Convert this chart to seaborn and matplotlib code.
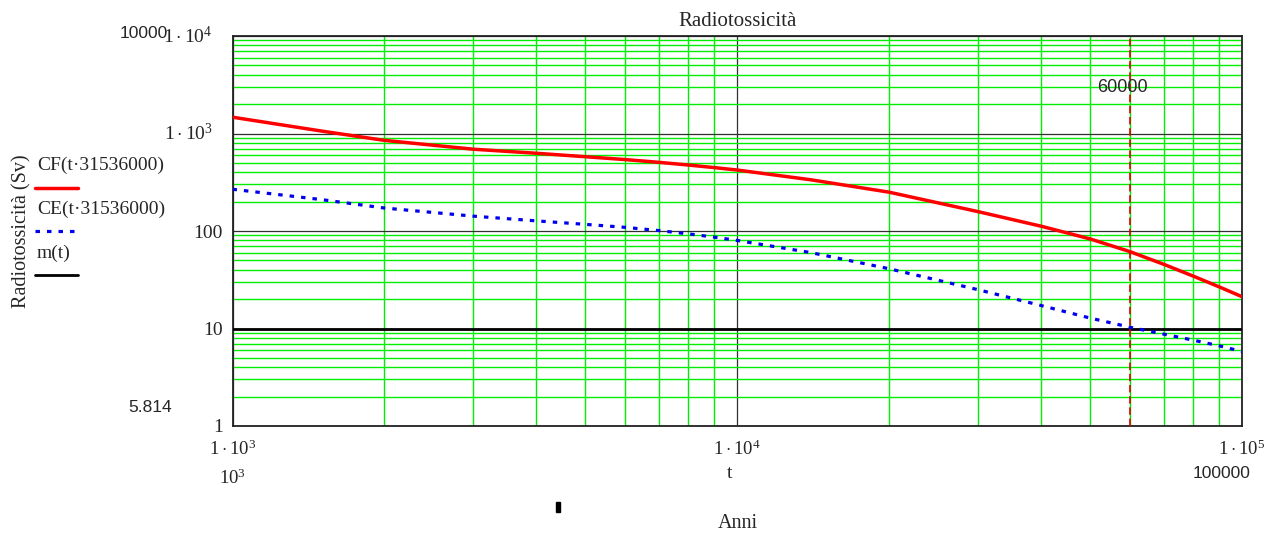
import numpy as np
import pandas as pd
import seaborn as sns
import matplotlib
matplotlib.use("Agg")
import matplotlib.pyplot as plt
from matplotlib.lines import Line2D
from matplotlib.ticker import LogLocator, NullFormatter
from matplotlib.transforms import ScaledTranslation

# ---- data ----
t_years = [1000, 1500, 2000, 3000, 4000, 5000, 6000, 7000, 8000, 9000, 10000,
           14000, 20000, 30000, 40000, 50000, 60000, 70000, 80000, 90000, 100000]
cf_values = [1470, 1060, 850, 690, 627, 578, 540, 506, 475, 447, 422,
             335, 250, 158, 112, 83, 61.4, 45.5, 34.5, 26.8, 21.2]
ce_values = [268, 210, 172, 142, 127, 117, 109, 101, 93.5, 86.5, 80,
             60, 41, 25, 17.2, 12.8, 10.3, 8.75, 7.6, 6.65, 5.814]
m_value = 10
marker_t = 60000
marker_ce = 5.814
y_ticks = [1, 10, 100, 1000, 10000]
y_ticklabels = ["1", "10", "100", r"$1\cdot10^{3}$", r"$1\cdot10^{4}$"]
x_ticks = [1000, 10000, 100000]
x_ticklabels = [r"$1\cdot10^{3}$", r"$1\cdot10^{4}$", r"$1\cdot10^{5}$"]
legend_labels = ["CF(t·31536000)", "CE(t·31536000)", "m(t)"]

sns.set_style("white")
plt.rcParams["font.family"] = ["Liberation Serif", "DejaVu Serif"]
plt.rcParams["mathtext.fontset"] = "custom"
plt.rcParams["mathtext.rm"] = "Liberation Serif"
plt.rcParams["mathtext.it"] = "Liberation Serif"

W, H = 1270, 536
fig = plt.figure(figsize=(W / 100, H / 100), dpi=100)
L, R, T, B = 232.5, 1242, 36, 426
ax = fig.add_axes([L / W, 1 - B / H, (R - L) / W, (B - T) / H])

df = pd.DataFrame({"t": t_years, "CF": cf_values, "CE": ce_values})
df["m"] = m_value

ax.set_xscale("log")
ax.set_yscale("log")
ax.set_xlim(1000, 100000)
ax.set_ylim(1, 10000)

# grid
ax.xaxis.set_minor_locator(LogLocator(base=10, subs=np.arange(2, 10)))
ax.yaxis.set_minor_locator(LogLocator(base=10, subs=np.arange(2, 10)))
ax.xaxis.set_minor_formatter(NullFormatter())
ax.yaxis.set_minor_formatter(NullFormatter())
ax.grid(which="minor", color="#00ee00", lw=1.0)
ax.grid(which="major", color="#303030", lw=0.9)
ax.set_axisbelow(True)

sns.lineplot(data=df, x="t", y="m", ax=ax, color="black", lw=2.0, zorder=3)
sns.lineplot(data=df, x="t", y="CE", ax=ax, color="#0000ee", lw=2.3,
             linestyle=(0, (1.4, 2.2)), zorder=4)
sns.lineplot(data=df, x="t", y="CF", ax=ax, color="#ff0000", lw=2.5, zorder=5)
ax.axvline(marker_t, color="#dd0000", lw=1.2, linestyle=(0, (4.5, 2.2)), zorder=6)

for s in ax.spines.values():
    s.set_color("#222222")
    s.set_linewidth(1.3)

ax.set_yticks(y_ticks)
ax.set_yticklabels(y_ticklabels)
ax.set_xticks(x_ticks)
ax.set_xticklabels(x_ticklabels)
ax.tick_params(which="both", length=0)
ax.tick_params(axis="y", labelsize=14, pad=7)
ax.tick_params(axis="x", labelsize=13.5, pad=10)
for lab in ax.get_yticklabels()[3:]:
    lab.set_transform(lab.get_transform() + ScaledTranslation(-0.10, 0.02, fig.dpi_scale_trans))
ax.set_xlabel("")
ax.set_ylabel("Radiotossicità (Sv)", fontsize=14.5)
ax.yaxis.set_label_coords((31 - L) / (R - L), 0.5)
ax.set_title("Radiotossicità", fontsize=15, pad=7)


def fx(x):
    return x / W


def fy(y):
    return 1 - y / H


sans = ["Liberation Sans", "DejaVu Sans"]
fig.text(fx(144), fy(33), "10000", fontsize=12.5, family=sans, ha="center", va="center")
fig.text(fx(232), fy(478), r"$10^{3}$", fontsize=13.5, ha="center", va="center")
fig.text(fx(730), fy(474), "t", fontsize=14, ha="center", va="center")
fig.text(fx(1222), fy(474), "100000", fontsize=12.5, family=sans, ha="center", va="center")
fig.text(fx(738), fy(524), "Anni", fontsize=14.5, ha="center", va="center")
ax.text(marker_t * 0.965, 10 ** (4 - (88 - T) / ((B - T) / 4)), "60000", fontsize=13,
        family=sans, ha="center", va="center", zorder=7)
fig.text(fx(150), fy(407), f"{marker_ce:.3f}", fontsize=12.5, family=sans, ha="center", va="center")
fig.add_artist(plt.Rectangle((fx(555.5), fy(512)), 4 / W, 10 / H, color="black"))

# legend (Mathcad style: label above line sample)
leg_styles = [dict(color="#ff0000", lw=2.5, ls="-"),
              dict(color="#0000ee", lw=2.3, ls=(0, (1.4, 2.2))),
              dict(color="black", lw=2.0, ls="-")]
text_y = [165, 209, 253]
line_y = [188, 231, 275]
for lab, st, ty, ly in zip(legend_labels, leg_styles, text_y, line_y):
    fig.text(fx(37), fy(ty), lab, fontsize=14, ha="left", va="center")
    fig.add_artist(Line2D([fx(35), fx(78)], [fy(ly), fy(ly)], **st))

fig.savefig("out.png", dpi=100)
